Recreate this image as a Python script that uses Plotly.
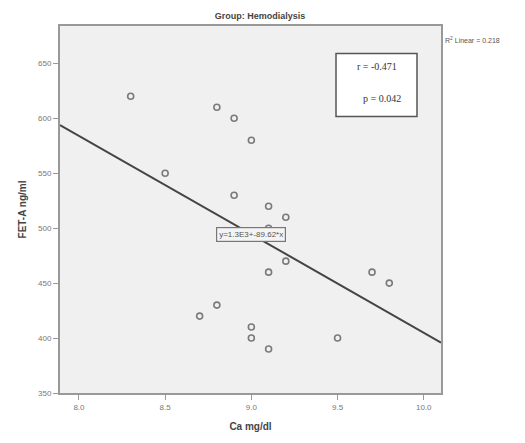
import plotly.graph_objects as go

# Data
ca = [8.3, 8.8, 8.9, 9.0, 8.5, 8.9, 9.1, 9.2, 9.1, 9.2, 9.1, 9.7, 9.8, 8.8, 8.7, 9.0, 9.0, 9.5, 9.1]
feta = [620, 610, 600, 580, 550, 530, 520, 510, 500, 470, 460, 460, 450, 430, 420, 410, 400, 400, 390]

intercept = 1301.0
slope = -89.62
x_range = [7.89, 10.1]
y_range = [350, 684]
x_ticks = [8.0, 8.5, 9.0, 9.5, 10.0]
y_ticks = [350, 400, 450, 500, 550, 600, 650]

title_text = "Group: Hemodialysis"
x_title = "Ca mg/dl"
y_title = "FET-A ng/ml"
r_text = "r = -0.471"
p_text = "p = 0.042"
eq_text = "y=1.3E3+-89.62*x"
r2_text = "R<sup>2</sup> Linear = 0.218"

fig = go.Figure()
fig.add_trace(go.Scatter(
    x=x_range, y=[intercept + slope * v for v in x_range],
    mode="lines", line=dict(color="#444444", width=2), hoverinfo="skip", showlegend=False))
fig.add_trace(go.Scatter(
    x=ca, y=feta, mode="markers",
    marker=dict(symbol="circle-open", size=6, color="#7a7a7a", line=dict(width=1.6, color="#7a7a7a")),
    showlegend=False))

fig.update_layout(
    width=525, height=443,
    margin=dict(l=60, r=84, t=26, b=44),
    paper_bgcolor="white", plot_bgcolor="#f0f0f0",
    font=dict(family="Liberation Sans, Arial, sans-serif", color="#555"),
    title=dict(text="<b>" + title_text + "</b>", x=260 / 525, xanchor="center", y=1 - 16 / 443, yanchor="middle",
               font=dict(size=9, color="#444")),
    xaxis=dict(range=x_range, tickvals=x_ticks, ticktext=["%.1f" % v for v in x_ticks],
               showgrid=False, zeroline=False, ticks="outside", ticklen=5, tickcolor="#999",
               showline=True, linecolor="#999", linewidth=2, mirror=True,
               tickfont=dict(size=8, color="#777"),
               title=dict(text="<b>" + x_title + "</b>", font=dict(size=10, color="#444"), standoff=12)),
    yaxis=dict(range=y_range, tickvals=y_ticks,
               showgrid=False, zeroline=False, ticks="outside", ticklen=5, tickcolor="#999",
               showline=True, linecolor="#999", linewidth=2, mirror=True,
               tickfont=dict(size=8, color="#777"),
               title=dict(text="<b>" + y_title + "</b>", font=dict(size=10, color="#444"), standoff=10)),
)

# r / p box
fig.add_shape(type="rect", xref="paper", yref="paper",
              x0=(336 - 60) / 381, x1=(417 - 60) / 381,
              y0=(399 - 118) / 373, y1=(399 - 54) / 373,
              fillcolor="white", line=dict(color="#555", width=1.5), layer="above")
fig.add_annotation(xref="paper", yref="paper", x=(377 - 60) / 381, y=(399 - 67) / 373,
                   xanchor="center", yanchor="middle",
                   text=r_text, showarrow=False, font=dict(family="Liberation Serif, Times New Roman, serif", size=10, color="#333"))
fig.add_annotation(xref="paper", yref="paper", x=(382 - 60) / 381, y=(399 - 100) / 373,
                   xanchor="center", yanchor="middle",
                   text=p_text, showarrow=False, font=dict(family="Liberation Serif, Times New Roman, serif", size=10, color="#333"))

# equation label
fig.add_annotation(x=9.0, y=494, text=eq_text, showarrow=False,
                   font=dict(size=8, color="#555"), bgcolor="#f4f4f4",
                   bordercolor="#777", borderwidth=1.2, borderpad=2)

# R2 label
fig.add_annotation(xref="paper", yref="paper", x=(443 - 60) / 381, y=(399 - 34) / 373,
                   xanchor="left", text=r2_text, showarrow=False,
                   font=dict(size=7, color="#555"))

fig.write_html("out.html")
